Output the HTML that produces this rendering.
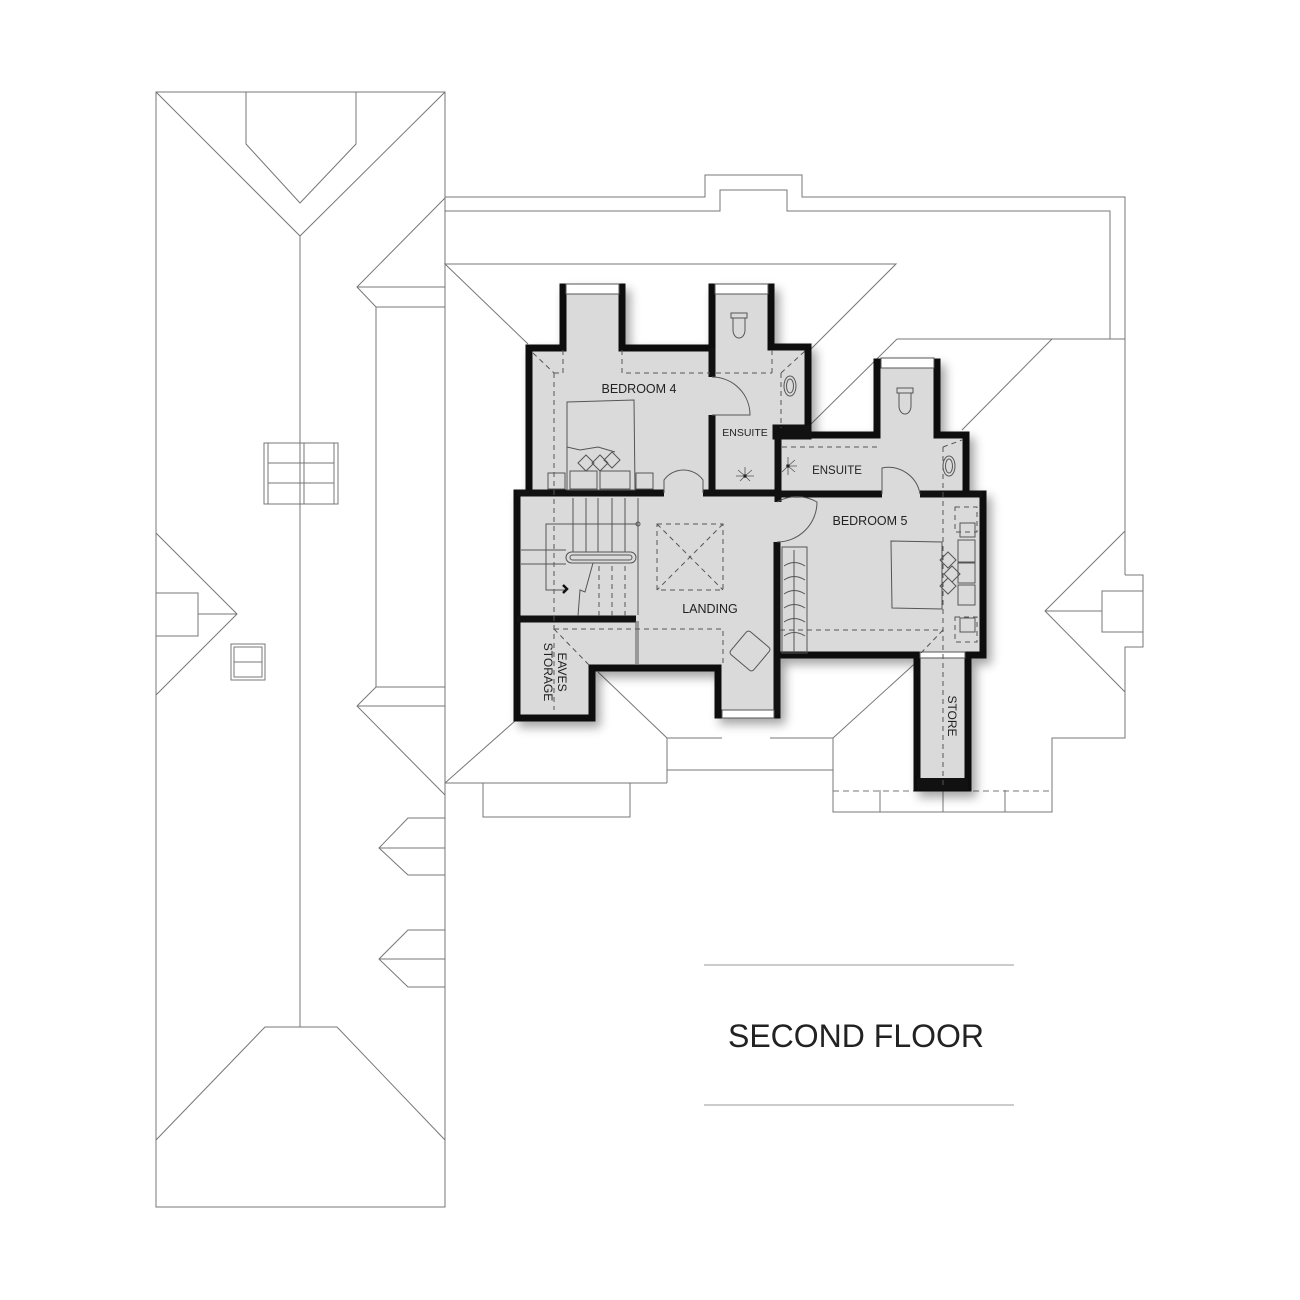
<!DOCTYPE html>
<html><head><meta charset="utf-8"><style>
html,body{margin:0;padding:0;background:#fff;}
svg{display:block;}
text{font-family:"Liberation Sans",Arial,sans-serif;fill:#222;}
</style></head><body>
<svg width="1300" height="1300" viewBox="0 0 1300 1300" xmlns="http://www.w3.org/2000/svg">
<defs>
<filter id="sh" x="-10%" y="-10%" width="130%" height="130%">
<feDropShadow dx="5" dy="6" stdDeviation="5" flood-color="#000" flood-opacity="0.35"/>
</filter>
</defs>
<g fill="none" stroke="#777" stroke-width="1">
<rect x="156" y="92" width="289" height="1115"/>
<line x1="300" y1="236" x2="300" y2="1027"/>
<polyline points="156,92 300,236 445,92"/>
<polyline points="246,92 246,144 300,203 356,144 356,92"/>
<polyline points="156,1140 265,1027 337,1027 445,1140"/>
<rect x="264" y="443" width="74" height="61"/>
<rect x="268" y="443" width="66" height="61"/>
<line x1="300" y1="443" x2="300" y2="504"/><line x1="304" y1="443" x2="304" y2="504"/>
<line x1="268" y1="463" x2="334" y2="463"/><line x1="268" y1="483" x2="334" y2="483"/>
<rect x="231" y="644" width="34" height="36"/><rect x="234" y="647" width="28" height="30"/>
<line x1="234" y1="662" x2="262" y2="662"/>
<polyline points="156,533 237,614 156,695"/>
<polyline points="156,593 198,593 198,636 156,636"/><line x1="198" y1="614" x2="237" y2="614"/>
<polyline points="445,198 357,287 376,307 445,307"/><line x1="357" y1="287" x2="445" y2="287"/>
<line x1="376" y1="307" x2="376" y2="687"/>
<polyline points="445,687 376,687 357,706 445,795"/><line x1="357" y1="706" x2="445" y2="706"/>
<polyline points="445,818 408,818 379,848 408,875 445,875"/><line x1="379" y1="848" x2="445" y2="848"/>
<polyline points="445,930 408,930 379,959 408,987 445,987"/><line x1="379" y1="959" x2="445" y2="959"/>
<polyline points="445,197 705,197 705,175 802,175 802,197 1125,197 1125,339"/>
<polyline points="445,211 720,211 720,190 787,190 787,211 1110,211 1110,339"/>
<line x1="897" y1="339" x2="1125" y2="339"/>
<line x1="897" y1="339" x2="810" y2="425"/>
<line x1="1052" y1="339" x2="962" y2="430"/>
<polyline points="528,344 445,264 896,264 810,350"/>
<line x1="1125" y1="339" x2="1125" y2="575"/>
<polyline points="1125,575 1143,575 1143,647 1125,647 1125,738 1052,738 1052,812 833,812 833,738"/>
<polyline points="1125,531 1045,611 1125,692"/>
<rect x="1102" y="591" width="41" height="41"/><line x1="1045" y1="611" x2="1102" y2="611"/>
<polyline points="922,657 833,738"/>
<line x1="770" y1="738" x2="833" y2="738"/><line x1="667" y1="770" x2="833" y2="770"/>
<line x1="667" y1="738" x2="722" y2="738"/>
<polyline points="598,672 667,738 667,783"/>
<polyline points="445,783 667,783"/><line x1="445" y1="783" x2="515" y2="721"/>
<rect x="483" y="783" width="147" height="34"/>
<line x1="880" y1="790" x2="880" y2="812"/><line x1="943" y1="790" x2="943" y2="812"/><line x1="1005" y1="790" x2="1005" y2="812"/>
<line x1="833" y1="791" x2="1052" y2="791" stroke-dasharray="6 4"/>
</g>
<g filter="url(#sh)">
<path d="M517,718 L517,493 L529,493 L529,348 L563,348 L563,287 L622,287 L622,348 L712,348 L712,287 L771,287 L771,347 L808,347 L808,435 L877,435 L877,362 L937,362 L937,435 L966,435 L966,494 L983,494 L983,655 L968,655 L968,788 L917,788 L917,655 L777,655 L777,715 L718,715 L718,668 L592,668 L592,718 Z" fill="#dadada" stroke="#111" stroke-width="7" stroke-linejoin="miter"/>
</g>
<g stroke="#111" stroke-width="7" fill="none">
<line x1="517" y1="493" x2="664" y2="493"/>
<line x1="703" y1="493" x2="780" y2="493"/>
<line x1="777" y1="494" x2="882" y2="494"/>
<line x1="920" y1="494" x2="983" y2="494"/>
<line x1="712" y1="348" x2="712" y2="377"/>
<line x1="712" y1="415" x2="712" y2="493"/>
<line x1="778" y1="432" x2="778" y2="502"/>
<rect x="776" y="428" width="32" height="8" fill="#111"/>
<line x1="777" y1="542" x2="777" y2="715"/>
<line x1="517" y1="619" x2="636" y2="619"/>
<line x1="917" y1="784" x2="968" y2="784" stroke-width="12"/>
</g>
<g fill="#fff" stroke="#555" stroke-width="1">
<rect x="566" y="284" width="53" height="10"/><rect x="715" y="284" width="53" height="10"/>
<rect x="881" y="358" width="53" height="10"/><rect x="722" y="710" width="52" height="8"/>
<rect x="920" y="652" width="45" height="6"/>
</g>
<g stroke="#555" stroke-width="1" fill="none">
<line x1="636" y1="621" x2="636" y2="664"/><line x1="638" y1="621" x2="638" y2="664"/>
<line x1="573" y1="498" x2="573" y2="552"/><line x1="586" y1="498" x2="586" y2="552"/>
<line x1="598" y1="498" x2="598" y2="552"/><line x1="612" y1="498" x2="612" y2="552"/>
<line x1="625" y1="498" x2="625" y2="552"/><line x1="638" y1="498" x2="638" y2="615"/>
<line x1="521" y1="550" x2="566" y2="550"/><line x1="521" y1="564" x2="566" y2="564"/>
<polyline points="638,524 546,524 546,590 566,590"/>
<circle cx="638" cy="524" r="2"/>
<rect x="566" y="552" width="70" height="11" rx="5.5"/>
<rect x="570" y="555" width="62" height="5" rx="2.5"/>
<polyline points="593,563 585,592 580,590 578,616"/>
<path d="M563,585 l4,4 l-4,4" stroke="#111" stroke-width="2.5"/>
<g stroke-dasharray="5 4">
<line x1="599" y1="566" x2="599" y2="616"/><line x1="612" y1="566" x2="612" y2="616"/><line x1="625" y1="566" x2="625" y2="616"/>
<line x1="554" y1="373" x2="554" y2="710"/>
<polyline points="554,373 563,373 563,350"/>
<polyline points="622,350 622,373 710,373"/>
<line x1="533" y1="353" x2="554" y2="373"/>
<rect x="657" y="524" width="66" height="66"/>
<line x1="657" y1="524" x2="723" y2="590"/><line x1="723" y1="524" x2="657" y2="590"/>
<polyline points="554,629 723,629 723,666"/>
<line x1="554" y1="629" x2="590" y2="666"/>
<line x1="772" y1="350" x2="772" y2="373"/><line x1="716" y1="373" x2="772" y2="373"/>
<line x1="781" y1="373" x2="781" y2="428"/><line x1="781" y1="373" x2="805" y2="351"/>
<line x1="782" y1="447" x2="877" y2="447"/>
<line x1="943" y1="447" x2="943" y2="788"/><line x1="943" y1="447" x2="962" y2="440"/>
<line x1="780" y1="630" x2="943" y2="630"/><line x1="943" y1="630" x2="921" y2="653"/>
<rect x="955" y="507" width="22" height="25"/><rect x="955" y="617" width="22" height="25"/>
</g>
<path d="M664,493 L664,480 A24,24 0 0 1 703,480 L703,493"/>
<path d="M712,377 A38,38 0 0 1 750,415 L712,415"/>
<path d="M882,494 L882,468 A32,32 0 0 1 920,494"/>
<path d="M777,502 A40,40 0 0 1 817,502 A40,40 0 0 1 777,542"/>
<path d="M567,402 L634,400 L635,490 L567,490 Z"/>
<path d="M567,447 L580,450 L598,447 L615,452"/>
<rect x="548" y="473" width="17" height="16"/><rect x="636" y="473" width="17" height="16"/>
<rect x="570" y="471" width="27" height="18"/><rect x="600" y="471" width="30" height="18"/>
<path d="M578,463 l8,-8 l8,8 l-8,8 z M592,463 l8,-8 l8,8 l-8,8 z M604,460 l8,-8 l8,8 l-8,8 z"/>
<path d="M891,541 L942,542 L942,609 L892,608 Z"/>
<rect x="958" y="540" width="17" height="22"/><rect x="958" y="563" width="17" height="20"/><rect x="958" y="585" width="17" height="20"/>
<rect x="960" y="523" width="15" height="14"/><rect x="960" y="618" width="15" height="14"/>
<path d="M940,560 l8,-8 l8,8 l-8,8 z M944,574 l8,-8 l8,8 l-8,8 z M940,586 l8,-8 l8,8 l-8,8 z"/>
<rect x="782" y="547" width="25" height="106"/>
<line x1="794" y1="550" x2="794" y2="652"/>
<path d="M784,566 q10,-7 21,0 M784,580 q10,-7 21,0 M784,594 q10,-7 21,0 M784,608 q10,-7 21,0 M784,622 q10,-7 21,0 M784,636 q10,-7 21,0"/>
<rect x="735" y="636" width="30" height="30" rx="3" transform="rotate(40 750 651)"/>
<path d="M733,318 L733,330 A6,8 0 0 0 745,330 L745,318"/><rect x="731" y="313" width="16" height="5"/>
<path d="M899,393 L899,406 A6,8 0 0 0 911,406 L911,393"/><rect x="897" y="388" width="16" height="5"/>
<ellipse cx="790" cy="386" rx="6" ry="10"/><ellipse cx="790" cy="386" rx="3.5" ry="7"/>
<ellipse cx="949" cy="466" rx="6" ry="10"/><ellipse cx="949" cy="466" rx="3.5" ry="7"/>
<g stroke-width="0.8"><path d="M745,476 l0,-9 M745,476 l7,-6 M745,476 l-7,-6 M745,476 l9,0 M745,476 l-9,0 M745,476 l5,5 M745,476 l-5,5"/>
<path d="M788,466 l0,-9 M788,466 l7,-6 M788,466 l7,6 M788,466 l9,0 M788,466 l0,9 M788,466 l-6,6"/></g>
<circle cx="745" cy="476" r="1.5" fill="#111"/><circle cx="788" cy="466" r="1.5" fill="#111"/>
</g>
<g font-size="12.5">
<text x="639" y="393" text-anchor="middle">BEDROOM 4</text>
<text x="745" y="436" text-anchor="middle" font-size="10.5">ENSUITE</text>
<text x="837" y="474" text-anchor="middle" font-size="11.5">ENSUITE</text>
<text x="870" y="525" text-anchor="middle">BEDROOM 5</text>
<text x="710" y="613" text-anchor="middle">LANDING</text>
<text transform="translate(558,672) rotate(90)" text-anchor="middle" font-size="12">EAVES</text>
<text transform="translate(544,672) rotate(90)" text-anchor="middle" font-size="12">STORAGE</text>
<text transform="translate(948,716) rotate(90)" text-anchor="middle" font-size="12">STORE</text>
</g>
<line x1="704" y1="965" x2="1014" y2="965" stroke="#999" stroke-width="1"/>
<line x1="704" y1="1105" x2="1014" y2="1105" stroke="#999" stroke-width="1"/>
<text x="856" y="1047" text-anchor="middle" font-size="32" fill="#111">SECOND FLOOR</text>
</svg>
</body></html>
